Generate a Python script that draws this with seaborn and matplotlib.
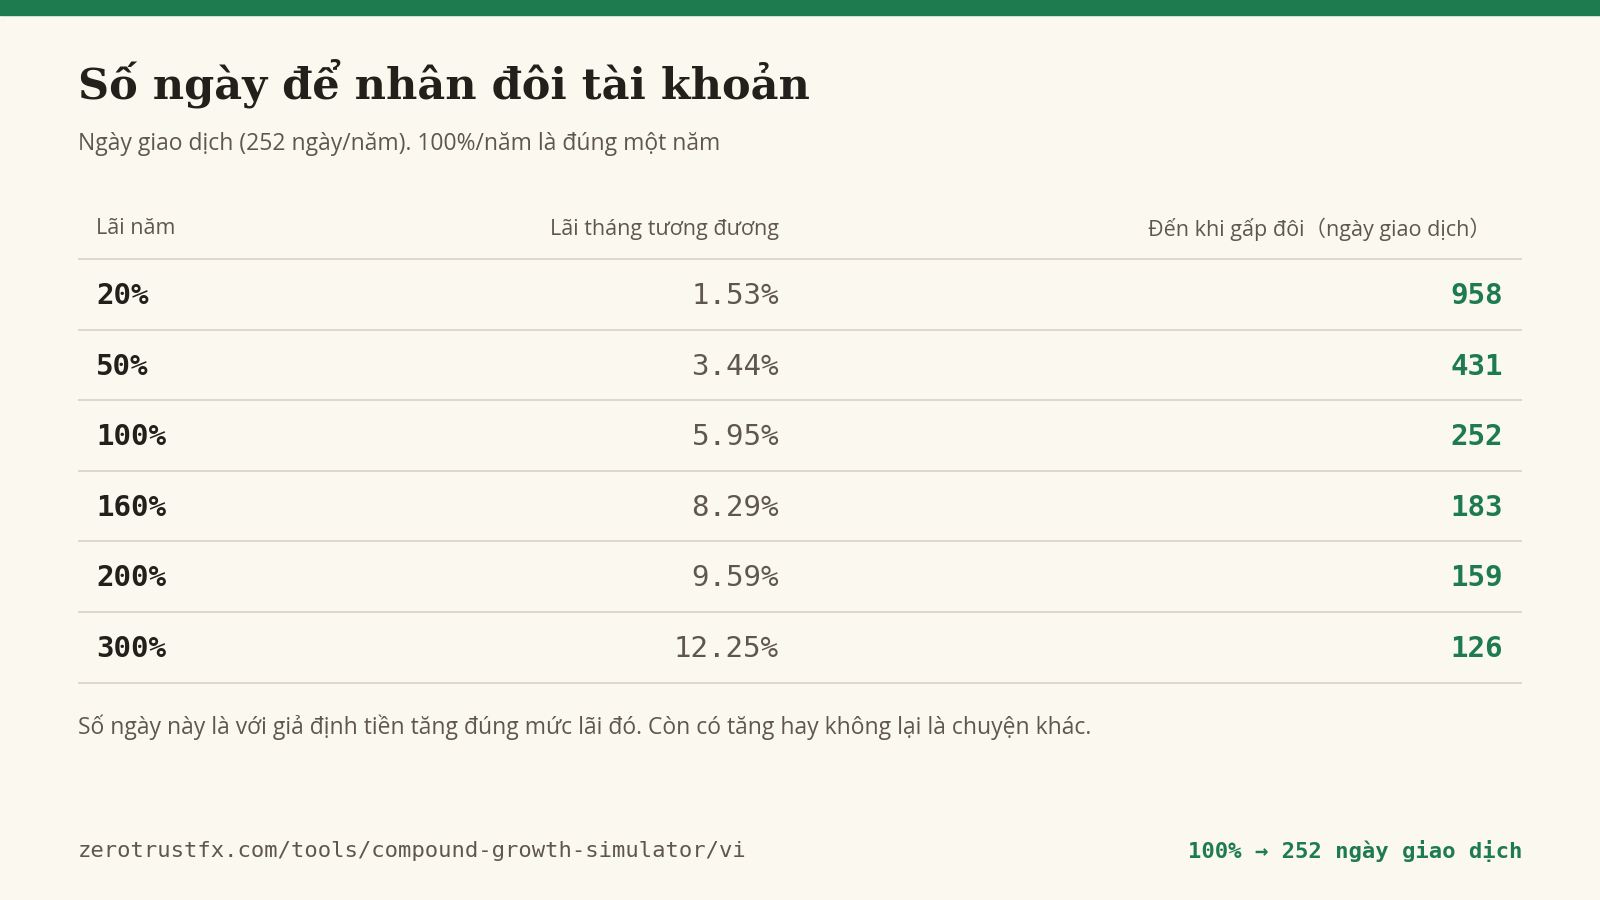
import matplotlib
matplotlib.use("Agg")
import matplotlib.pyplot as plt
import seaborn as sns

# table data
annual = ["20%", "50%", "100%", "160%", "200%", "300%"]
monthly = ["1.53%", "3.44%", "5.95%", "8.29%", "9.59%", "12.25%"]
days = [958, 431, 252, 183, 159, 126]
headers = ["Lãi năm", "Lãi tháng tương đương", "Đến khi gấp đôi（ngày giao dịch）"]

BG = "#FBF8F0"
GREEN = "#1E7B4F"
DARK = "#231F1B"
GRAY = "#5F574D"
LINE = "#DAD3C4"

sns.set_theme(style="white")
plt.rcParams["font.family"] = ["Open Sans", "Noto Sans CJK SC", "DejaVu Sans"]

fig = plt.figure(figsize=(16, 9), dpi=100, facecolor=BG)
ax = fig.add_axes([0, 0, 1, 1])
ax.set_facecolor(BG)
ax.set_xlim(0, 1600)
ax.set_ylim(900, 0)
ax.axis("off")

ax.axhspan(0, 15, color=GREEN)

ax.text(78, 83, "Số ngày để nhân đôi tài khoản", fontsize=31, fontweight="bold",
        family=["DejaVu Serif"], color=DARK, va="center")
ax.text(78, 144, "Ngày giao dịch (252 ngày/năm). 100%/năm là đúng một năm",
        fontsize=16.5, color=GRAY, va="center")

# header
hfam = ["Open Sans", "Noto Sans CJK SC", "DejaVu Sans"]
ax.text(96, 229, headers[0], fontsize=15.5, color=GRAY, va="center", family=hfam)
ax.text(779, 229, headers[1], fontsize=15.5, color=GRAY, va="center", ha="right", family=hfam)
ax.text(1491, 229, headers[2], fontsize=15.5, color=GRAY, va="center", ha="right", family=hfam)
ax.hlines(259, 78, 1522, color=LINE, lw=1.2)

row_h = 70.6
for i, (a, m, d) in enumerate(zip(annual, monthly, days)):
    yc = 296 + i * row_h
    ax.text(96, yc, a, fontsize=21, fontweight="bold", family=["DejaVu Sans Mono"],
            color=DARK, va="center")
    ax.text(779, yc, m, fontsize=21, family=["DejaVu Sans Mono"], color=GRAY,
            va="center", ha="right")
    ax.text(1503, yc, str(d), fontsize=21, fontweight="bold", family=["DejaVu Sans Mono"],
            color=GREEN, va="center", ha="right")
    ax.hlines(259 + (i + 1) * row_h, 78, 1522, color=LINE, lw=1.2)

ax.text(78, 727, "Số ngày này là với giả định tiền tăng đúng mức lãi đó. Còn có tăng hay không lại là chuyện khác.",
        fontsize=16.5, color=GRAY, va="center")

ax.text(78, 851, "zerotrustfx.com/tools/compound-growth-simulator/vi", fontsize=16,
        family=["DejaVu Sans Mono"], color=GRAY, va="center")
ax.text(1522, 851, "100% → 252 ngày giao dịch", fontsize=16, fontweight="bold",
        family=["DejaVu Sans Mono"], color=GREEN, va="center", ha="right")

fig.savefig("out.png", dpi=100, facecolor=BG)
